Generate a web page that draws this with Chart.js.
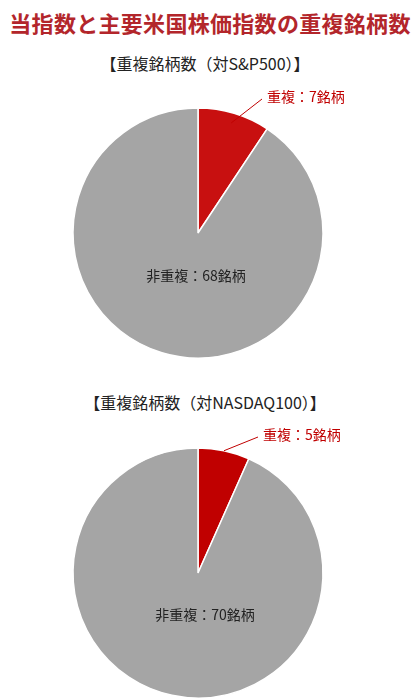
<!DOCTYPE html>
<html lang="ja">
<head>
<meta charset="utf-8">
<script src="https://cdn.jsdelivr.net/npm/chart.js@4/dist/chart.umd.min.js"></script>
<style>
    html, body { margin: 0; padding: 0; background: #fff; }
    body { width: 420px; height: 700px; position: relative; overflow: hidden;
           font-family: "Noto Sans CJK JP", sans-serif; }
    .main-title { position: absolute; left: 0; top: 6px; width: 420px; text-align: center;
                  font-size: 22px; font-weight: 700; color: #b3262b; letter-spacing: 0.3px; }
    .sub-title { position: absolute; left: 0; width: 410px; text-align: center;
                 font-size: 16px; font-weight: 400; color: #222; }
    canvas { position: absolute; left: 0; }
</style>
</head>
<body>
<div class="main-title">当指数と主要米国株価指数の重複銘柄数</div>
<div class="sub-title" style="top:51px">【重複銘柄数（対S&amp;P500）】</div>
<div class="sub-title" style="top:390px">【重複銘柄数（対NASDAQ100）】</div>
<canvas id="sp500Chart" width="420" height="300" style="top:83px"></canvas>
<canvas id="nasdaqChart" width="420" height="300" style="top:423px"></canvas>
<script>
// categories and values
const categories = ['重複', '非重複'];
const sp500Values = [7, 68];
const nasdaqValues = [5, 70];
const unit = '銘柄';

// draws "重複：7銘柄" with a leader line and "非重複：68銘柄" inside the pie
const pieLabels = {
    id: 'pieLabels',
    afterDatasetsDraw(chart, args, opts) {
        const ctx = chart.ctx;
        const arcs = chart.getDatasetMeta(0).data;
        const values = chart.data.datasets[0].data;
        const labels = chart.data.labels;

        // overlap slice, label outside
        const a = arcs[0];
        const mid = (a.startAngle + a.endAngle) / 2;
        const r = a.outerRadius;
        const x1 = a.x + Math.cos(mid) * r * opts.lineStart;
        const y1 = a.y + Math.sin(mid) * r * opts.lineStart;
        const x2 = a.x + opts.lineEnd[0];
        const y2 = a.y + opts.lineEnd[1];
        ctx.save();
        ctx.strokeStyle = opts.redText;
        ctx.lineWidth = 1;
        ctx.beginPath();
        ctx.moveTo(x1, y1);
        ctx.lineTo(x2, y2);
        ctx.stroke();
        ctx.font = '400 14px "Noto Sans CJK JP"';
        ctx.fillStyle = opts.redText;
        ctx.textBaseline = 'middle';
        ctx.textAlign = 'left';
        ctx.fillText(labels[0] + '：' + values[0] + unit, x2 + 5, y2 - 2);

        // non-overlap slice, label inside
        const b = arcs[1];
        ctx.fillStyle = '#222';
        ctx.textAlign = 'center';
        ctx.fillText(labels[1] + '：' + values[1] + unit, b.x + opts.inner[0], b.y + opts.inner[1]);
        ctx.restore();
    }
};

function makePie(id, values, red, labelOpts) {
    const ctx = document.getElementById(id).getContext('2d');
    return new Chart(ctx, {
        type: 'pie',
        data: {
            labels: categories,
            datasets: [{
                data: values,
                backgroundColor: [red, '#a5a5a5'],
                borderColor: '#ffffff',
                borderWidth: 1.5,
                radius: 125
            }]
        },
        options: {
            responsive: false,
            animation: false,
            layout: { padding: { left: 0, right: 24, top: 0, bottom: 0 } },
            plugins: {
                legend: { display: false },
                tooltip: { enabled: false },
                pieLabels: labelOpts
            }
        },
        plugins: [pieLabels]
    });
}

makePie('sp500Chart', sp500Values, '#c81010', {
    redText: '#c00000', lineStart: 0.92, lineEnd: [64, -134], inner: [-2, 43]
});
makePie('nasdaqChart', nasdaqValues, '#c00000', {
    redText: '#c00000', lineStart: 1.0, lineEnd: [60, -136], inner: [7, 42]
});
</script>
</body>
</html>
